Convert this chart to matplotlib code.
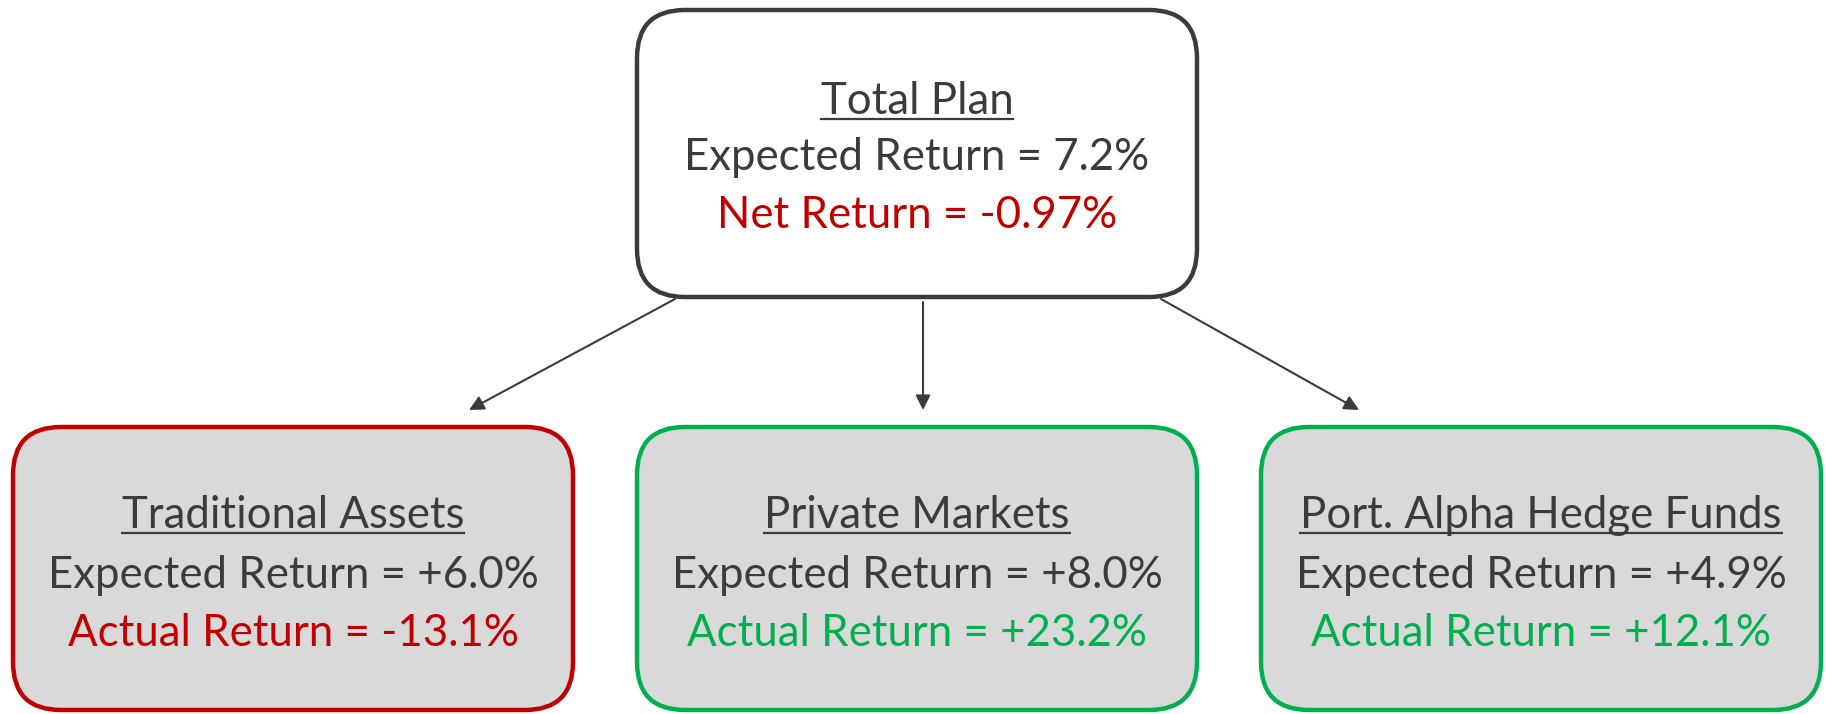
import matplotlib.pyplot as plt
from matplotlib.patches import FancyBboxPatch

plt.rcParams['font.family'] = ['Lato', 'DejaVu Sans']

# data
top_title = "Total Plan"
top_expected = "Expected Return = 7.2%"
top_net = "Net Return = -0.97%"

titles = ["Traditional Assets", "Private Markets", "Port. Alpha Hedge Funds"]
expected = ["+6.0%", "+8.0%", "+4.9%"]
actual = ["-13.1%", "+23.2%", "+12.1%"]
outcome = ["bad", "good", "good"]

DARK = "#3b3b3b"
RED = "#c00000"
GREEN = "#00b050"
colors = {"bad": RED, "good": GREEN}

fig = plt.figure(figsize=(18.26, 7.14), dpi=100)
ax = fig.add_axes([0, 0, 1, 1])
ax.set_xlim(0, 1826)
ax.set_ylim(714, 0)
ax.axis("off")

def box(x0, y0, x1, y1, fc, ec):
    p = FancyBboxPatch((x0, y0), x1 - x0, y1 - y0,
                       boxstyle="round,pad=0,rounding_size=48",
                       fc=fc, ec=ec, lw=3.2)
    ax.add_patch(p)

fs = 31.5
titles_drawn = []

# top box
box(637, 10, 1197, 297, "white", DARK)
t = ax.text(917, 101, top_title, ha="center", va="center", fontsize=fs, color=DARK)
titles_drawn.append(t)
ax.text(917, 158, top_expected, ha="center", va="center", fontsize=fs, color=DARK)
ax.text(917, 216, top_net, ha="center", va="center", fontsize=fs, color=RED)

# bottom boxes
lefts = [13, 637, 1261]
for i in range(len(titles)):
    x0 = lefts[i]
    cx = x0 + 280
    c = colors[outcome[i]]
    box(x0, 427, x0 + 560, 710, "#d9d9d9", c)
    t = ax.text(cx, 515, titles[i], ha="center", va="center", fontsize=fs, color=DARK)
    titles_drawn.append(t)
    ax.text(cx, 575, "Expected Return = " + expected[i], ha="center", va="center",
            fontsize=fs, color=DARK)
    ax.text(cx, 633, "Actual Return = " + actual[i], ha="center", va="center",
            fontsize=fs, color=c)

# arrows
starts = [(675, 299), (923, 302), (1161, 299)]
ends = [(469, 410), (923, 410), (1359, 410)]
for s, e in zip(starts, ends):
    ax.annotate("", xy=e, xytext=s,
                arrowprops=dict(arrowstyle="-|>", color=DARK, lw=1.5,
                                mutation_scale=22, shrinkA=0, shrinkB=0))

# underline titles
fig.canvas.draw()
r = fig.canvas.get_renderer()
inv = ax.transData.inverted()
for t in titles_drawn:
    bb = t.get_window_extent(r)
    (x0, y0), (x1, y1) = inv.transform([(bb.x0, bb.y0), (bb.x1, bb.y1)])
    yl = max(y0, y1) - 3
    ax.plot([x0, x1], [yl, yl], color=DARK, lw=1.6)

fig.savefig("out.png", dpi=100, facecolor="white")
